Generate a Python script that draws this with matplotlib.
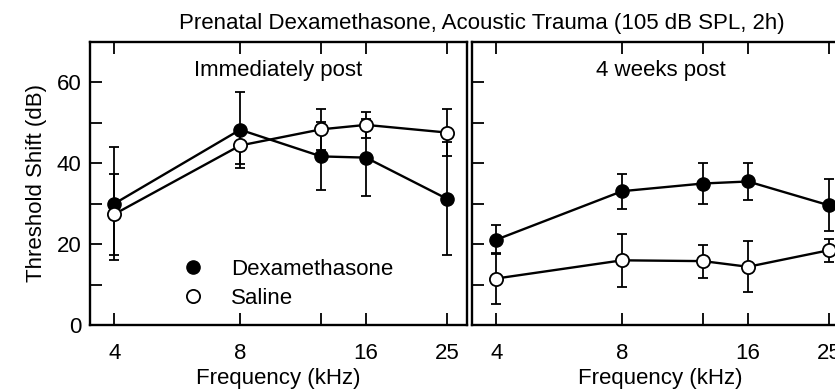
import matplotlib
matplotlib.use("Agg")
import matplotlib.pyplot as plt
from matplotlib.lines import Line2D
import numpy as np

plt.rcParams['font.family'] = ['Liberation Sans', 'DejaVu Sans']

freqs = [4, 8, 12.5, 16, 25]
tick_freqs = [4, 8, 12.5, 16, 25]
tick_labels = ["4", "8", "", "16", "25"]

imm_dex = [30.0, 48.3, 41.7, 41.4, 31.2]
imm_dex_err = [14.0, 9.4, 8.4, 9.6, 14.0]
imm_sal = [27.4, 44.4, 48.4, 49.5, 47.6]
imm_sal_err = [10.0, 4.5, 5.1, 3.2, 5.9]

wk4_dex = [21.1, 33.1, 35.0, 35.5, 29.6]
wk4_dex_err = [3.6, 4.3, 5.0, 4.5, 6.4]
wk4_sal = [11.5, 16.0, 15.8, 14.4, 18.5]
wk4_sal_err = [6.3, 6.6, 4.1, 6.3, 2.8]

title = "Prenatal Dexamethasone, Acoustic Trauma (105 dB SPL, 2h)"
panel_titles = ["Immediately post", "4 weeks post"]

fig = plt.figure(figsize=(8.35, 3.92), dpi=100)
W, H = 835, 392
ax1 = fig.add_axes([90 / W, 1 - 325 / H, 377 / W, 283 / H])
ax2 = fig.add_axes([472 / W, 1 - 325 / H, 377 / W, 283 / H])

FS = 16
for ax, dex, dexe, sal, sale, pt in [
    (ax1, imm_dex, imm_dex_err, imm_sal, imm_sal_err, panel_titles[0]),
    (ax2, wk4_dex, wk4_dex_err, wk4_sal, wk4_sal_err, panel_titles[1]),
]:
    ax.set_xscale('log')
    ax.errorbar(freqs, dex, yerr=dexe, color='black', lw=1.7, marker='o',
                ms=9.5, mfc='black', mec='black', capsize=3.5, elinewidth=1.3,
                capthick=1.3, zorder=3)
    ax.errorbar(freqs, sal, yerr=sale, color='black', lw=1.7, marker='o',
                ms=9.5, mfc='white', mec='black', mew=1.3, capsize=3.5,
                elinewidth=1.3, capthick=1.3, zorder=4)
    ax.set_xlim(3.5, 27.9)
    ax.set_ylim(0, 70)
    ax.set_xticks(tick_freqs)
    ax.set_xticklabels(tick_labels, fontsize=FS)
    ax.xaxis.set_minor_locator(matplotlib.ticker.NullLocator())
    ax.set_yticks(np.arange(0, 70, 10))
    ax.tick_params(axis='both', direction='in', length=8.5, width=1.3,
                   top=True, labelsize=FS)
    ax.tick_params(axis='x', pad=13)
    ax.tick_params(axis='y', pad=6)
    for s in ax.spines.values():
        s.set_linewidth(1.7)
    ax.set_xlabel("Frequency (kHz)", fontsize=FS, labelpad=3)
    ax.text(0.5, 0.9, pt, transform=ax.transAxes, ha='center', va='center',
            fontsize=FS)

ax1.set_yticklabels(["0", "", "20", "", "40", "", "60"])
ax1.set_ylabel("Threshold Shift (dB)", fontsize=FS, labelpad=7)
ax2.set_yticklabels([])

handles = [
    Line2D([], [], ls='none', marker='o', ms=9.5, mfc='black', mec='black'),
    Line2D([], [], ls='none', marker='o', ms=9.5, mfc='white', mec='black', mew=1.3),
]
ax1.legend(handles, ['Dexamethasone', 'Saline'], loc='lower left',
           bbox_to_anchor=(0.22, 0.025), frameon=False, fontsize=FS,
           handlelength=1.0, handletextpad=1.2, labelspacing=0.35,
           borderaxespad=0)

fig.text(482 / W, 1 - 24 / H, title, ha='center', va='center', fontsize=FS)

fig.savefig("out.png", dpi=100)
